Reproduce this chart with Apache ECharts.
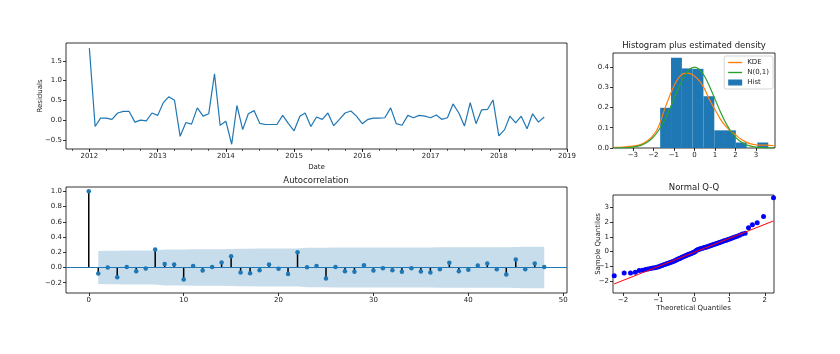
<!DOCTYPE html>
<html>
<head>
<meta charset="utf-8">
<script src="https://cdn.jsdelivr.net/npm/echarts@6/dist/echarts.min.js"></script>
<style>
html, body { margin: 0; padding: 0; background: #fff; }
#chart { width: 840px; height: 354px; }
</style>
</head>
<body>
<div id="chart"></div>
<script>
// residuals, one value per month starting 2012-01
const firstYear = 2012;
const residuals = [
  1.82, -0.16, 0.05, 0.05, 0.02, 0.18, 0.22, 0.22, -0.05, 0.0, -0.02, 0.18,
  0.12, 0.45, 0.59, 0.50, -0.41, -0.06, -0.10, 0.31, 0.10, 0.16, 1.17, -0.13,
  -0.03, -0.61, 0.37, -0.24, 0.16, 0.24, -0.08, -0.11, -0.11, -0.11, 0.12, -0.08,
  -0.27, 0.10, 0.18, -0.16, 0.08, 0.02, 0.18, -0.14, 0.02, 0.18, 0.23, 0.10,
  -0.09, 0.02, 0.05, 0.05, 0.06, 0.31, -0.09, -0.13, 0.12, 0.06, 0.12, 0.10,
  0.06, 0.13, 0.02, 0.06, 0.41, 0.18, -0.15, 0.44, -0.09, 0.26, 0.27, 0.51,
  -0.40, -0.24, 0.10, -0.07, 0.10, -0.22, 0.16, -0.05, 0.08
];
const yearTicks = [2012, 2013, 2014, 2015, 2016, 2017, 2018, 2019];
const residTicks = [-0.5, 0.0, 0.5, 1.0, 1.5];

// histogram of standardized residuals
const binEdges = [-1.67, -1.14, -0.61, -0.09, 0.44, 0.97, 1.49, 2.02, 2.55, 3.07, 3.60];
const binHeights = [0.198, 0.445, 0.392, 0.390, 0.255, 0.087, 0.087, 0.027, 0.0, 0.027];
const kdeX = [-3.9, -3.5, -3.0, -2.6, -2.25, -2.0, -1.75, -1.5, -1.25, -1.0, -0.75, -0.5, -0.25, 0.0,
  0.25, 0.5, 0.75, 1.0, 1.25, 1.5, 1.75, 2.0, 2.25, 2.5, 2.75, 3.0, 3.25, 3.5, 3.9];
const kdeY = [0.003, 0.005, 0.009, 0.018, 0.038, 0.063, 0.105, 0.178, 0.245, 0.305, 0.348, 0.368, 0.368, 0.355,
  0.330, 0.290, 0.235, 0.190, 0.145, 0.110, 0.085, 0.065, 0.045, 0.030, 0.020, 0.015, 0.014, 0.014, 0.011];
const normX = [-3.9, -3.5, -3.25, -3.0, -2.75, -2.5, -2.25, -2.0, -1.75, -1.5, -1.25, -1.0, -0.75, -0.5, -0.25, 0.0,
  0.25, 0.5, 0.75, 1.0, 1.25, 1.5, 1.75, 2.0, 2.25, 2.5, 2.75, 3.0, 3.25, 3.5, 3.9];
const normY = [0.0002, 0.0009, 0.002, 0.0044, 0.0091, 0.0175, 0.0317, 0.054, 0.0863, 0.1295, 0.1826, 0.242, 0.3011, 0.3521, 0.3867, 0.3989,
  0.3867, 0.3521, 0.3011, 0.242, 0.1826, 0.1295, 0.0863, 0.054, 0.0317, 0.0175, 0.0091, 0.0044, 0.002, 0.0009, 0.0002];
const histTicksX = [-3, -2, -1, 0, 1, 2, 3];
const histTicksY = [0.0, 0.1, 0.2, 0.3, 0.4];

// autocorrelation, lags 0..48
const acf = [
  1.0, -0.079, 0.0, -0.128, 0.008, -0.049, -0.013, 0.237, 0.047, 0.039,
  -0.158, 0.021, -0.04, 0.006, 0.066, 0.149, -0.066, -0.075, -0.036, 0.039,
  -0.018, -0.084, 0.201, 0.004, 0.021, -0.145, 0.005, -0.049, -0.057, 0.030,
  -0.04, -0.009, -0.036, -0.057, -0.009, -0.053, -0.066, -0.022, 0.061, -0.049,
  -0.031, 0.026, 0.052, -0.022, -0.092, 0.105, -0.022, 0.052, 0.008
];
// half width of the 95% band, lags 1..48
const confHalf = [
  0.218, 0.219, 0.219, 0.223, 0.223, 0.223, 0.223, 0.235, 0.235, 0.236,
  0.241, 0.241, 0.241, 0.241, 0.242, 0.246, 0.247, 0.248, 0.248, 0.249,
  0.249, 0.250, 0.258, 0.258, 0.258, 0.262, 0.262, 0.262, 0.263, 0.263,
  0.263, 0.263, 0.263, 0.264, 0.264, 0.264, 0.265, 0.265, 0.266, 0.266,
  0.266, 0.267, 0.267, 0.267, 0.269, 0.271, 0.271, 0.271
];
const acfTicksX = [0, 10, 20, 30, 40, 50];
const acfTicksY = [-0.2, 0.0, 0.2, 0.4, 0.6, 0.8, 1.0];

// normal Q-Q
const theoQ = [
  -2.246, -1.965, -1.786, -1.651, -1.541, -1.446, -1.363, -1.288, -1.221, -1.158,
  -1.099, -1.044, -0.992, -0.943, -0.896, -0.851, -0.807, -0.765, -0.724, -0.684,
  -0.646, -0.608, -0.571, -0.535, -0.500, -0.465, -0.431, -0.397, -0.364, -0.331,
  -0.298, -0.266, -0.234, -0.202, -0.171, -0.140, -0.109, -0.078, -0.046, -0.015,
  0.015, 0.046, 0.078, 0.109, 0.140, 0.171, 0.202, 0.234, 0.266, 0.298,
  0.331, 0.364, 0.397, 0.431, 0.465, 0.500, 0.535, 0.571, 0.608, 0.646,
  0.684, 0.724, 0.765, 0.807, 0.851, 0.896, 0.943, 0.992, 1.044, 1.099,
  1.158, 1.221, 1.288, 1.363, 1.446, 1.541, 1.651, 1.786, 1.965, 2.246
];
const sampleQ = [
  -1.65, -1.47, -1.47, -1.42, -1.30, -1.27, -1.22, -1.19, -1.16, -1.13,
  -1.11, -1.08, -1.04, -0.99, -0.95, -0.91, -0.87, -0.84, -0.80, -0.76,
  -0.73, -0.70, -0.66, -0.62, -0.58, -0.54, -0.50, -0.47, -0.43, -0.39,
  -0.36, -0.32, -0.29, -0.26, -0.22, -0.19, -0.16, -0.13, -0.10, -0.07,
  -0.03, 0.02, 0.08, 0.13, 0.16, 0.18, 0.20, 0.22, 0.24, 0.27,
  0.29, 0.31, 0.34, 0.37, 0.40, 0.43, 0.46, 0.49, 0.52, 0.55,
  0.58, 0.62, 0.65, 0.69, 0.73, 0.76, 0.80, 0.84, 0.89, 0.94,
  0.99, 1.05, 1.11, 1.19, 1.25, 1.63, 1.83, 1.97, 2.40, 3.67
];
const qqLineX = [-2.246, 2.246];
const qqLineY = [-2.21, 2.09];
const qqTicksX = [-2, -1, 0, 1, 2];
const qqTicksY = [-2, -1, 0, 1, 2, 3];

const BLUE = '#1f77b4';
const FONT = 'DejaVu Sans';
const minus = s => String(s).replace('-', '\u2212');
const fmt1 = v => minus((Math.abs(v) < 1e-9 ? 0 : v).toFixed(1));
const fmt0 = v => minus(Math.round(v));

// dates as timestamps on a plain value axis
const dateOf = (y, m) => new Date(y, m, 1).getTime();
const residData = residuals.map((v, i) => [dateOf(firstYear, i), v]);
const yearTickTimes = yearTicks.map(y => dateOf(y, 0));
const quarterTimes = [];
for (let t = dateOf(2011, 9); t <= dateOf(2019, 0); ) {
  quarterTimes.push(t);
  const d = new Date(t);
  t = dateOf(d.getFullYear(), d.getMonth() + 3);
}
const timeMin = dateOf(2011, 8) - 3 * 86400000;
const timeMax = dateOf(2019, 0);

function axisBase(extra) {
  return Object.assign({
    axisLine: { show: false, onZero: false },
    splitLine: { show: false },
    axisTick: { show: true, length: 3, lineStyle: { color: '#000', width: 0.8 } },
    axisLabel: { fontSize: 7, color: '#222', margin: 4, fontFamily: FONT },
    nameTextStyle: { fontSize: 7, color: '#222', fontFamily: FONT }
  }, extra);
}
function ticks(list, fmt) {
  return {
    axisTick: { show: true, length: 3, customValues: list, lineStyle: { color: '#000', width: 0.8 } },
    axisLabel: { fontSize: 7, color: '#222', margin: 4, fontFamily: FONT, customValues: list, formatter: fmt }
  };
}
function label(text, x, y, size, rotate) {
  return { type: 'text', x: x, y: y, rotation: rotate ? Math.PI / 2 : 0,
    style: { text: text, x: 0, y: 0, textAlign: 'center', textVerticalAlign: 'middle', fontSize: size, fill: '#222', fontFamily: FONT } };
}

const gridStyle = { show: true, borderColor: '#000', borderWidth: 0.8, backgroundColor: 'transparent' };
const lineIcon = 'path://M0,0 L20,0 L20,2 L0,2 Z';

const chart = echarts.init(document.getElementById('chart'));
chart.setOption({
  animation: false,
  textStyle: { fontFamily: FONT },
  grid: [
    Object.assign({ left: 66, top: 43, width: 501, height: 106 }, gridStyle),
    Object.assign({ left: 613, top: 53, width: 162, height: 95 }, gridStyle),
    Object.assign({ left: 66, top: 187, width: 501, height: 106 }, gridStyle),
    Object.assign({ left: 613, top: 195, width: 161, height: 98 }, gridStyle)
  ],
  xAxis: [
    axisBase(Object.assign({ type: 'value', gridIndex: 0, min: timeMin, max: timeMax, position: 'bottom',
      name: 'Date', nameLocation: 'middle', nameGap: 15 },
      ticks(yearTickTimes, v => String(new Date(v).getFullYear())))),
    axisBase({ type: 'value', gridIndex: 0, min: timeMin, max: timeMax, position: 'bottom',
      axisTick: { show: true, length: 2, customValues: quarterTimes, lineStyle: { color: '#000', width: 0.6 } },
      axisLabel: { show: false } }),
    axisBase(Object.assign({ type: 'value', gridIndex: 1, min: -3.97, max: 3.93 }, ticks(histTicksX, fmt0))),
    axisBase(Object.assign({ type: 'value', gridIndex: 2, min: -2.4, max: 50.4 }, ticks(acfTicksX, fmt0))),
    axisBase(Object.assign({ type: 'value', gridIndex: 3, min: -2.28, max: 2.26,
      name: 'Theoretical Quantiles', nameLocation: 'middle', nameGap: 8 }, ticks(qqTicksX, fmt0)))
  ],
  yAxis: [
    axisBase(Object.assign({ type: 'value', gridIndex: 0, min: -0.73, max: 1.95 }, ticks(residTicks, fmt1))),
    axisBase(Object.assign({ type: 'value', gridIndex: 1, min: 0, max: 0.468 }, ticks(histTicksY, fmt1))),
    axisBase(Object.assign({ type: 'value', gridIndex: 2, min: -0.335, max: 1.057 }, ticks(acfTicksY, fmt1))),
    axisBase(Object.assign({ type: 'value', gridIndex: 3, min: -2.83, max: 3.86 }, ticks(qqTicksY, fmt0)))
  ],
  legend: {
    data: [{ name: 'KDE', icon: lineIcon }, { name: 'N(0,1)', icon: lineIcon }, { name: 'Hist', icon: 'rect' }],
    orient: 'vertical', right: 67, top: 56,
    itemWidth: 14, itemHeight: 6, itemGap: 3, padding: [3, 4, 3, 4],
    textStyle: { fontSize: 7, color: '#222', fontFamily: FONT },
    borderColor: '#ccc', borderWidth: 0.8, borderRadius: 2,
    backgroundColor: 'rgba(255,255,255,0.8)', selectedMode: false
  },
  graphic: [
    label('Histogram plus estimated density', 694, 46, 8.5),
    label('Autocorrelation', 316, 181, 8.5),
    label('Normal Q-Q', 694, 188, 8.5),
    label('Residuals', 40, 96, 7, true),
    label('Sample Quantiles', 598, 244, 7, true)
  ],
  series: [
    {
      type: 'line', xAxisIndex: 0, yAxisIndex: 0, data: residData,
      symbol: 'none', lineStyle: { color: BLUE, width: 1.2 }
    },
    {
      type: 'custom', name: 'Hist', xAxisIndex: 2, yAxisIndex: 1,
      itemStyle: { color: BLUE },
      encode: { x: [0, 1], y: 2 },
      data: binHeights.map((h, i) => [binEdges[i], binEdges[i + 1], h]),
      renderItem: function (params, api) {
        const p0 = api.coord([api.value(0), api.value(2)]);
        const p1 = api.coord([api.value(1), 0]);
        return { type: 'rect', shape: { x: p0[0], y: p0[1], width: p1[0] - p0[0], height: p1[1] - p0[1] },
          style: { fill: BLUE } };
      }
    },
    {
      type: 'line', name: 'KDE', xAxisIndex: 2, yAxisIndex: 1, smooth: 0.3,
      data: kdeX.map((x, i) => [x, kdeY[i]]), symbol: 'none',
      itemStyle: { color: '#ff7f0e' }, lineStyle: { color: '#ff7f0e', width: 1.2 }
    },
    {
      type: 'line', name: 'N(0,1)', xAxisIndex: 2, yAxisIndex: 1, smooth: 0.3,
      data: normX.map((x, i) => [x, normY[i]]), symbol: 'none',
      itemStyle: { color: '#2ca02c' }, lineStyle: { color: '#2ca02c', width: 1.2 }
    },
    {
      // confidence band as a single polygon through the lag points
      type: 'custom', xAxisIndex: 3, yAxisIndex: 2, silent: true, z: 1,
      encode: { x: 0, y: [1, 2] },
      data: confHalf.map((c, i) => [i + 1, c, -c]),
      renderItem: function (params, api) {
        if (params.dataIndex !== 0) return null;
        const upper = confHalf.map((c, i) => api.coord([i + 1, c]));
        const lower = confHalf.map((c, i) => api.coord([i + 1, -c])).reverse();
        return { type: 'polygon', shape: { points: upper.concat(lower) },
          style: { fill: 'rgba(31,119,180,0.25)' } };
      }
    },
    {
      type: 'bar', xAxisIndex: 3, yAxisIndex: 2, barWidth: 1.5,
      data: acf.map((v, i) => [i, v]), itemStyle: { color: '#000' }
    },
    {
      type: 'scatter', xAxisIndex: 3, yAxisIndex: 2, symbolSize: 4.5,
      data: acf.map((v, i) => [i, v]), itemStyle: { color: BLUE, opacity: 1 },
      markLine: {
        silent: true, symbol: 'none', label: { show: false },
        lineStyle: { color: BLUE, width: 1.2, type: 'solid' },
        data: [{ yAxis: 0 }]
      }
    },
    {
      type: 'scatter', xAxisIndex: 4, yAxisIndex: 3, symbolSize: 5,
      data: theoQ.map((x, i) => [x, sampleQ[i]]), itemStyle: { color: '#0000ff', opacity: 1 }
    },
    {
      type: 'line', xAxisIndex: 4, yAxisIndex: 3, symbol: 'none', z: 5,
      data: qqLineX.map((x, i) => [x, qqLineY[i]]), lineStyle: { color: '#ff0000', width: 1 }
    }
  ]
});
</script>
</body>
</html>
